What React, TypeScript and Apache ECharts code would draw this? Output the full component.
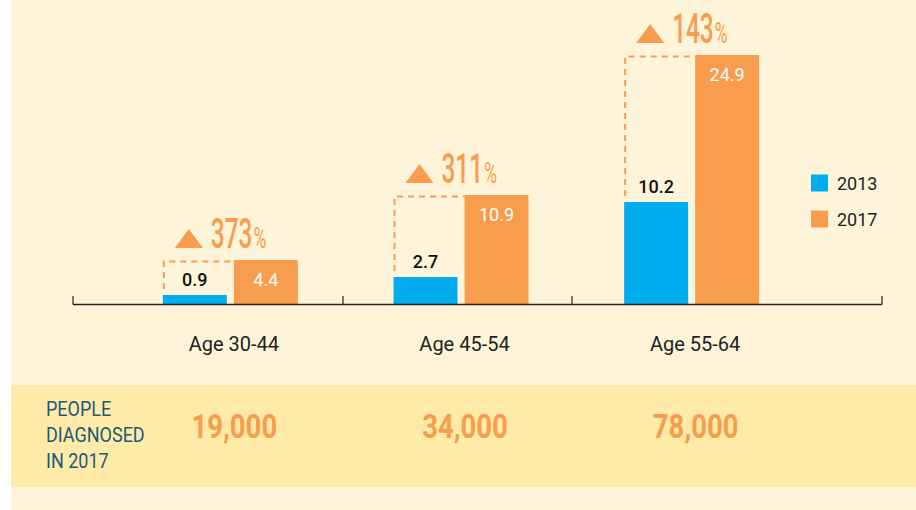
import React, { useEffect, useRef } from "react";
import * as echarts from "echarts";

const categories = ["Age 30-44", "Age 45-54", "Age 55-64"];
const values2013 = [0.9, 2.7, 10.2];
const values2017 = [4.4, 10.9, 24.9];
const pctIncrease = [373, 311, 143];
const diagnosed2017 = ["19,000", "34,000", "78,000"];
const seriesNames = ["2013", "2017"];

const BLUE = "#00AEEF";
const ORANGE = "#F89D4E";
const CREAM = "#FEF4D9";
const BAND = "#FFEAA8";
const TEAL = "#1B5A7A";
const FONT = "Roboto, 'Noto Sans', sans-serif";

const BAR_W = 64;
const BAR_GAP = 7;

export default function App() {
  const ref = useRef<HTMLDivElement>(null);

  useEffect(() => {
    document.body.style.margin = "0";
    if (!ref.current) return;
    const chart = echarts.init(ref.current, null, { renderer: "svg" });

    const renderItem = (params: any, api: any) => {
      const i = params.dataIndex;
      const cx = api.coord([i, 0])[0];
      const yTop = api.coord([i, values2017[i]])[1];
      const yBlue = api.coord([i, values2013[i]])[1];
      const bl = cx - BAR_W - BAR_GAP / 2;
      const lc = bl + 60;
      return {
        type: "group",
        children: [
          {
            type: "polyline",
            shape: {
              points: [
                [bl + 1, yBlue - 6],
                [bl + 1, yTop + 1.5],
                [cx + BAR_GAP / 2, yTop + 1.5],
              ],
            },
            style: { stroke: ORANGE, lineWidth: 2, lineDash: [6, 5], fill: null },
          },
          {
            type: "polygon",
            shape: {
              points: [
                [lc - 48, yTop - 12],
                [lc - 20, yTop - 12],
                [lc - 34, yTop - 31],
              ],
            },
            style: { fill: ORANGE },
          },
          {
            type: "text",
            x: lc - 12,
            y: yTop - 6,
            scaleX: 0.58,
            style: {
              text: `{n|${pctIncrease[i]}}{p|%}`,
              align: "left",
              verticalAlign: "bottom",
              fill: ORANGE,
              rich: {
                n: {
                  fontSize: 42,
                  fontWeight: 500,
                  fontFamily: FONT,
                  fill: ORANGE,
                  verticalAlign: "bottom",
                },
                p: {
                  fontSize: 30,
                  fontWeight: 400,
                  fontFamily: FONT,
                  fill: ORANGE,
                  verticalAlign: "bottom",
                  padding: [0, 0, 1, 2],
                },
              },
            },
          },
          {
            type: "text",
            x: cx + 4,
            y: 426,
            scaleX: 0.81,
            style: {
              text: diagnosed2017[i],
              align: "center",
              verticalAlign: "middle",
              fontSize: 34,
              fontWeight: 700,
              fontFamily: FONT,
              fill: ORANGE,
            },
          },
        ],
      };
    };

    const option: any = {
      animation: false,
      grid: { left: 115, right: 109, top: 4, bottom: 206 },
      legend: {
        data: seriesNames,
        orient: "vertical",
        left: 806,
        top: 169,
        itemWidth: 17,
        itemHeight: 17,
        itemGap: 18,
        icon: "rect",
        textStyle: { fontSize: 18, color: "#222", fontFamily: FONT, padding: [0, 0, 0, 4] },
      },
      xAxis: {
        type: "category",
        data: categories,
        axisLine: { show: false },
        axisTick: { show: false },
        axisLabel: {
          fontSize: 20,
          color: "#222",
          fontFamily: FONT,
          margin: 30,
          padding: [0, 0, 0, 7],
        },
      },
      yAxis: { type: "value", min: 0, max: 30, show: false },
      graphic: [
        {
          type: "rect",
          z: -10,
          silent: true,
          shape: { x: 11, y: 0, width: 905, height: 510 },
          style: { fill: CREAM },
        },
        {
          type: "rect",
          z: -9,
          silent: true,
          shape: { x: 11, y: 385, width: 905, height: 102 },
          style: { fill: BAND },
        },
        {
          type: "line",
          z: 10,
          silent: true,
          shape: { x1: 73, y1: 304.5, x2: 882, y2: 304.5 },
          style: { stroke: "#222", lineWidth: 1.5 },
        },
        ...[73, 343, 572, 882].map((x) => ({
          type: "line",
          z: 10,
          silent: true,
          shape: { x1: x, y1: 296, x2: x, y2: 304.5 },
          style: { stroke: "#222", lineWidth: 1.2 },
        })),
        {
          type: "text",
          left: 46,
          top: 396,
          scaleX: 0.9,
          silent: true,
          style: {
            text: "PEOPLE\nDIAGNOSED\nIN 2017",
            fontSize: 20,
            lineHeight: 26,
            fontFamily: FONT,
            fill: TEAL,
          },
        },
      ],
      series: [
        {
          name: seriesNames[0],
          type: "bar",
          data: values2013,
          barWidth: BAR_W,
          barGap: `${(BAR_GAP / BAR_W) * 100}%`,
          itemStyle: { color: BLUE },
          label: {
            show: true,
            position: "top",
            distance: 7,
            fontSize: 18,
            fontWeight: 500,
            fontFamily: FONT,
            color: "#111",
          },
        },
        {
          name: seriesNames[1],
          type: "bar",
          data: values2017,
          barWidth: BAR_W,
          itemStyle: { color: ORANGE },
          label: {
            show: true,
            position: "insideTop",
            distance: 10,
            fontSize: 18,
            fontFamily: FONT,
            color: "#fff",
          },
        },
        {
          type: "custom",
          name: "overlay",
          renderItem,
          data: categories.map((_, i) => [i, values2017[i]]),
          encode: { x: 0, y: 1 },
          z: 5,
          silent: true,
          clip: false,
        },
      ],
    };

    chart.setOption(option);
    return () => chart.dispose();
  }, []);

  return (
    <div
      style={{ position: "fixed", left: 0, top: 0, width: 916, height: 510, background: "#fff" }}
    >
      <div ref={ref} style={{ width: 916, height: 510 }} />
    </div>
  );
}
